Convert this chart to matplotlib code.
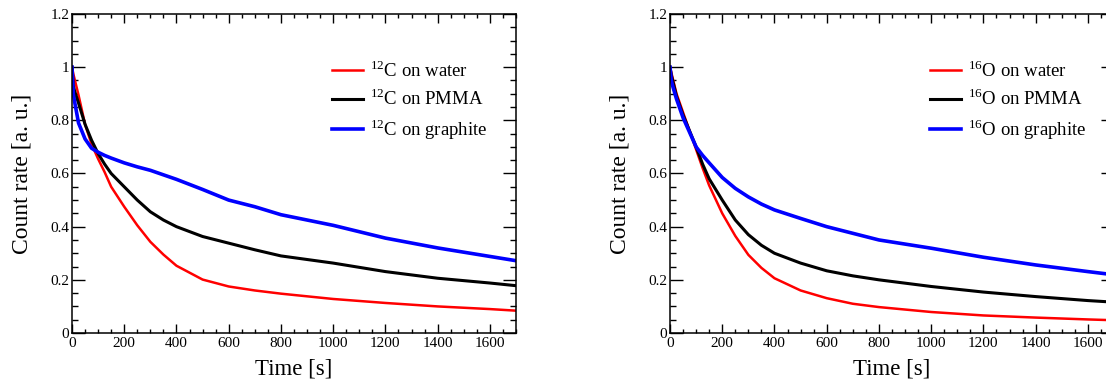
import numpy as np
import matplotlib
matplotlib.use('Agg')
import matplotlib.pyplot as plt
from matplotlib.ticker import MultipleLocator, FuncFormatter

############
### Data ###
############
time = [0, 5, 10, 25, 50, 75, 100, 125, 150, 200, 250, 300, 350, 400, 500, 600, 700, 800, 1000, 1200, 1400, 1600, 1700]

# 12C beam
carbonWater    = [1.0, 0.975, 0.955, 0.895, 0.785, 0.71, 0.655, 0.605, 0.55, 0.475, 0.405, 0.343, 0.295, 0.253, 0.201, 0.175, 0.16, 0.148, 0.128, 0.113, 0.100, 0.090, 0.084]
carbonPMMA     = [1.0, 0.93, 0.91, 0.865, 0.785, 0.725, 0.675, 0.635, 0.60, 0.55, 0.50, 0.456, 0.425, 0.40, 0.363, 0.338, 0.313, 0.29, 0.263, 0.231, 0.206, 0.188, 0.178]
carbonGraphite = [1.0, 0.90, 0.87, 0.79, 0.73, 0.695, 0.68, 0.668, 0.658, 0.64, 0.625, 0.612, 0.595, 0.578, 0.54, 0.50, 0.475, 0.445, 0.405, 0.357, 0.32, 0.288, 0.272]

# 16O beam
oxygenWater    = [1.0, 0.98, 0.96, 0.90, 0.83, 0.76, 0.69, 0.62, 0.555, 0.45, 0.365, 0.294, 0.245, 0.206, 0.16, 0.131, 0.11, 0.0975, 0.079, 0.066, 0.058, 0.051, 0.048]
oxygenPMMA     = [1.0, 0.97, 0.95, 0.89, 0.82, 0.76, 0.70, 0.635, 0.58, 0.50, 0.425, 0.37, 0.33, 0.30, 0.263, 0.234, 0.215, 0.20, 0.175, 0.154, 0.137, 0.122, 0.116]
oxygenGraphite = [1.0, 0.95, 0.93, 0.88, 0.81, 0.755, 0.70, 0.668, 0.64, 0.585, 0.544, 0.512, 0.485, 0.463, 0.431, 0.40, 0.375, 0.35, 0.319, 0.285, 0.256, 0.231, 0.219]

carbonLabels = ['$^{\\mathregular{12}}$C on water', '$^{\\mathregular{12}}$C on PMMA', '$^{\\mathregular{12}}$C on graphite']
oxygenLabels = ['$^{\\mathregular{16}}$O on water', '$^{\\mathregular{16}}$O on PMMA', '$^{\\mathregular{16}}$O on graphite']

#############
### Style ###
#############
plt.rcParams['font.family'] = ['Liberation Serif', 'DejaVu Serif']
plt.rcParams['mathtext.fontset'] = 'custom'
plt.rcParams['mathtext.rm'] = 'Liberation Serif'

colors = ['#ff0000', '#000000', '#0000ff']
widths = [1.8, 2.2, 2.6]

def drawPanel(ax, series, labels):
    for i in range(3):
        ax.plot(time, series[i], color = colors[i], lw = widths[i], label = labels[i])

    ax.set_xlim(0, 1700)
    ax.set_ylim(0, 1.2)
    ax.xaxis.set_major_locator(MultipleLocator(200))
    ax.xaxis.set_minor_locator(MultipleLocator(50))
    ax.yaxis.set_major_locator(MultipleLocator(0.2))
    ax.yaxis.set_minor_locator(MultipleLocator(0.05))
    ax.yaxis.set_major_formatter(FuncFormatter(lambda v, p: '%g' % round(v, 2)))

    ax.tick_params(which = 'both', direction = 'in', top = True, right = True, labelsize = 11, width = 1.0)
    ax.tick_params(axis = 'x', which = 'major', length = 6.5, pad = 3)
    ax.tick_params(axis = 'x', which = 'minor', length = 3.2)
    ax.tick_params(axis = 'y', which = 'major', length = 9.4, pad = 2)
    ax.tick_params(axis = 'y', which = 'minor', length = 4.6)
    for s in ax.spines.values():
        s.set_linewidth(1.1)

    ax.set_xlabel('Time [s]', fontsize = 16.5, labelpad = 6)
    ax.set_ylabel('Count rate [a. u.]', fontsize = 17, labelpad = 13)

    ax.legend(loc = 'upper left', bbox_to_anchor = (0.585, 0.855), frameon = False,
              fontsize = 13.5, handlelength = 1.65, handletextpad = 0.4,
              labelspacing = 0.4, borderpad = 0, borderaxespad = 0)

##############
### Figure ###
##############
fig = plt.figure(figsize = (11.06, 3.81), dpi = 100)

carbonAx = fig.add_axes([72 / 1106, 48 / 381, 444 / 1106, 319 / 381])
drawPanel(carbonAx, [carbonWater, carbonPMMA, carbonGraphite], carbonLabels)

oxygenAx = fig.add_axes([670 / 1106, 48 / 381, 444 / 1106, 319 / 381])
drawPanel(oxygenAx, [oxygenWater, oxygenPMMA, oxygenGraphite], oxygenLabels)

fig.savefig('out.png', dpi = 100)
